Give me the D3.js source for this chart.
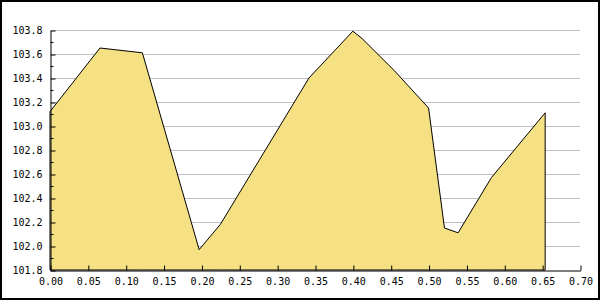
<!DOCTYPE html>
<html>
<head>
<meta charset="utf-8">
<script src="https://cdn.jsdelivr.net/npm/d3@7"></script>
<style>
  body { margin: 0; background: #fff; }
  svg { display: block; }
  text { font-family: "DejaVu Sans Mono", monospace; font-size: 10px; fill: #000; }
</style>
</head>
<body>
<svg width="600" height="300"></svg>
<script>
const svg = d3.select('svg');
const width = +svg.attr('width');
const height = +svg.attr('height');

// data
const xValues = [0.000, 0.066, 0.122, 0.197, 0.225, 0.342, 0.400, 0.412, 0.455, 0.500, 0.521, 0.539, 0.583, 0.654];
const yValues = [103.12, 103.65, 103.61, 101.97, 102.18, 103.40, 103.79, 103.73, 103.46, 103.15, 102.15, 102.11, 102.57, 103.11];
const xTicks = [0, 0.05, 0.1, 0.15, 0.2, 0.25, 0.3, 0.35, 0.4, 0.45, 0.5, 0.55, 0.6, 0.65, 0.7];
const yTicks = [101.8, 102.0, 102.2, 102.4, 102.6, 102.8, 103.0, 103.2, 103.4, 103.6, 103.8];
const yMinor = [101.9, 102.1, 102.3, 102.5, 102.7, 102.9, 103.1, 103.3, 103.5, 103.7];

const data = xValues.map((x, i) => ({ x: x, y: yValues[i] }));

const plotLeft = 50, plotRight = 580, plotTop = 30, plotBottom = 270;

const x = d3.scaleLinear().domain([0, 0.7]).range([plotLeft, plotRight]);
const y = d3.scaleLinear().domain([101.8, 103.8]).range([plotBottom, plotTop]);

// grid
svg.append('g')
  .selectAll('line').data(yTicks.slice(1))
  .enter().append('line')
  .attr('x1', plotLeft + 1).attr('x2', plotRight)
  .attr('y1', d => Math.round(y(d)) + 0.5)
  .attr('y2', d => Math.round(y(d)) + 0.5)
  .attr('stroke', '#c0c0c0')
  .attr('stroke-width', 1);

// filled area, outlined incl. right edge
const area = d3.area()
  .x(d => x(d.x))
  .y0(y(101.8))
  .y1(d => y(d.y));

svg.append('path')
  .datum(data)
  .attr('d', area)
  .attr('fill', '#f6e084')
  .attr('stroke', '#000')
  .attr('stroke-width', 1);

// x axis
const xAxis = d3.axisBottom(x)
  .tickValues(xTicks)
  .tickFormat(d3.format('.2f'))
  .tickSizeInner(-5)
  .tickSizeOuter(0)
  .tickPadding(10);

const gx = svg.append('g')
  .attr('transform', `translate(0.5,${plotBottom + 0.5})`)
  .call(xAxis);
gx.selectAll('text').attr('dy', '0.71em').attr('y', 7);

// y axis
const yAxis = d3.axisLeft(y)
  .tickValues(yTicks)
  .tickFormat(d3.format('.1f'))
  .tickSizeInner(-5)
  .tickSizeOuter(0)
  .tickPadding(8);

const gy = svg.append('g')
  .attr('transform', `translate(${plotLeft + 0.5},0.5)`)
  .call(yAxis);

gy.selectAll('.minor').data(yMinor)
  .enter().append('line')
  .attr('class', 'minor')
  .attr('x1', 0).attr('x2', 3)
  .attr('y1', d => Math.round(y(d)))
  .attr('y2', d => Math.round(y(d)))
  .attr('stroke', '#000');

svg.selectAll('.domain').attr('stroke', '#000');
svg.selectAll('.tick line').attr('stroke', '#000');
svg.selectAll('.tick text')
  .style('font-family', '"DejaVu Sans Mono", monospace')
  .style('font-size', '10px');

// outer frame
svg.append('rect')
  .attr('x', 1).attr('y', 1)
  .attr('width', width - 2).attr('height', height - 2)
  .attr('fill', 'none')
  .attr('stroke', '#000')
  .attr('stroke-width', 2);
</script>
</body>
</html>
